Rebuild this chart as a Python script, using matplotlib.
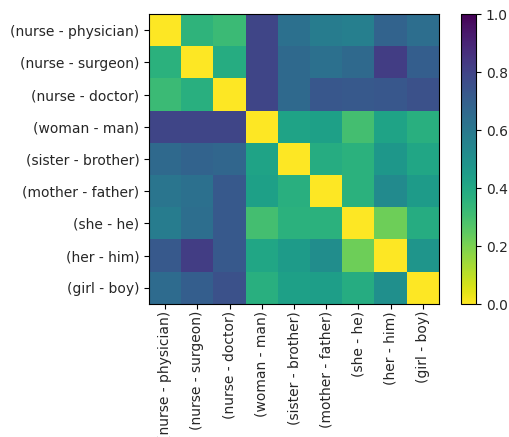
import numpy as np
import matplotlib
matplotlib.use("Agg")
import matplotlib.pyplot as plt

labels = ["(nurse - physician)", "(nurse - surgeon)", "(nurse - doctor)",
          "(woman - man)", "(sister - brother)", "(mother - father)",
          "(she - he)", "(her - him)", "(girl - boy)"]

# pairwise distances between difference vectors
row_nurse_physician = [0.00, 0.35, 0.32, 0.79, 0.63, 0.58, 0.57, 0.68, 0.64]
row_nurse_surgeon   = [0.36, 0.00, 0.38, 0.79, 0.66, 0.63, 0.66, 0.82, 0.70]
row_nurse_doctor    = [0.32, 0.37, 0.00, 0.79, 0.66, 0.73, 0.72, 0.73, 0.75]
row_woman_man       = [0.79, 0.79, 0.79, 0.00, 0.42, 0.43, 0.30, 0.42, 0.37]
row_sister_brother  = [0.66, 0.68, 0.67, 0.42, 0.00, 0.38, 0.36, 0.47, 0.41]
row_mother_father   = [0.61, 0.63, 0.72, 0.43, 0.37, 0.00, 0.36, 0.52, 0.45]
row_she_he          = [0.58, 0.64, 0.72, 0.30, 0.36, 0.36, 0.00, 0.22, 0.38]
row_her_him         = [0.72, 0.82, 0.72, 0.41, 0.45, 0.51, 0.22, 0.00, 0.48]
row_girl_boy        = [0.65, 0.70, 0.75, 0.37, 0.43, 0.44, 0.38, 0.50, 0.00]

dist = np.array([row_nurse_physician, row_nurse_surgeon, row_nurse_doctor,
                 row_woman_man, row_sister_brother, row_mother_father,
                 row_she_he, row_her_him, row_girl_boy])

W, H = 509, 437
DPI = 100
fig = plt.figure(figsize=(W / DPI, H / DPI), dpi=DPI)
ax = fig.add_axes([149 / W, (H - 304) / H, 290 / W, 290 / H])
cax = fig.add_axes([461 / W, (H - 304) / H, 15 / W, 290 / H])

im = ax.imshow(dist, cmap="viridis_r", vmin=0, vmax=1, aspect="auto")
ax.set_xticks(range(len(labels)))
ax.set_yticks(range(len(labels)))
ax.set_xticklabels(labels, rotation=90, fontsize=10, color="#262626")
ax.set_yticklabels(labels, fontsize=10, color="#262626")
ax.tick_params(axis="x", pad=1.5)

cb = fig.colorbar(im, cax=cax)
cb.set_ticks([0.0, 0.2, 0.4, 0.6, 0.8, 1.0])
cb.ax.tick_params(labelsize=10, labelcolor="#262626")

fig.savefig("out.png", dpi=DPI, facecolor="white")
